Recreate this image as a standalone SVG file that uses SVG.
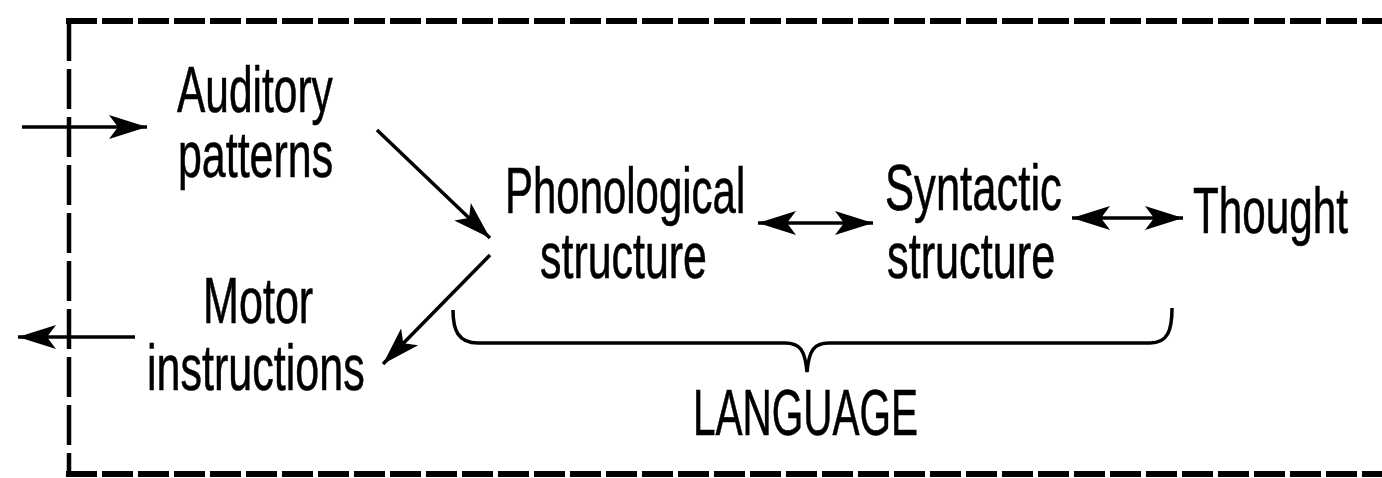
<svg xmlns="http://www.w3.org/2000/svg" width="1382" height="478" viewBox="0 0 1382 478">
  <style>
    .lbl { font-family: "Liberation Sans", Arial, sans-serif; font-size: 64px; fill: #000; stroke: #000; stroke-width: 0.6; }
    .frame { fill: none; stroke: #000; }
    .conn { fill: none; stroke: #000; stroke-width: 3.5; }
  </style>
  <defs>
    <marker id="head" viewBox="-40 -13 42 26" refX="0" refY="0" markerWidth="42" markerHeight="26" markerUnits="userSpaceOnUse" orient="auto-start-reverse">
      <path d="M0,0 L-38,-12 L-29,0 L-38,12 Z" fill="#000"/>
    </marker>
  </defs>

  <rect width="1382" height="478" fill="#fff"/>

  <!-- dashed system boundary (open on the right) -->
  <g id="boundary">
    <line class="frame" x1="66" y1="21" x2="1382" y2="21" stroke-width="6" stroke-dasharray="31 5"/>
    <line class="frame" x1="66" y1="474" x2="1382" y2="474" stroke-width="6" stroke-dasharray="31 5"/>
    <line class="frame" x1="69" y1="21" x2="69" y2="474" stroke-width="4.5" stroke-dasharray="40 8"/>
  </g>

  <!-- labels use a condensed face: glyphs squeezed horizontally -->
  <g id="auditory">
    <text class="lbl" transform="translate(177,112) scale(0.66,1)" textLength="236" lengthAdjust="spacingAndGlyphs">Auditory</text>
    <text class="lbl" transform="translate(178,177) scale(0.66,1)" textLength="235" lengthAdjust="spacingAndGlyphs">patterns</text>
  </g>
  <g id="motor">
    <text class="lbl" transform="translate(203,323) scale(0.66,1)" textLength="167" lengthAdjust="spacingAndGlyphs">Motor</text>
    <text class="lbl" transform="translate(147,390) scale(0.66,1)" textLength="330" lengthAdjust="spacingAndGlyphs">instructions</text>
  </g>
  <g id="phonological">
    <text class="lbl" transform="translate(505,213) scale(0.66,1)" textLength="364" lengthAdjust="spacingAndGlyphs">Phonological</text>
    <text class="lbl" transform="translate(540,278) scale(0.66,1)" textLength="253" lengthAdjust="spacingAndGlyphs">structure</text>
  </g>
  <g id="syntactic">
    <text class="lbl" transform="translate(885,210) scale(0.66,1)" textLength="268" lengthAdjust="spacingAndGlyphs">Syntactic</text>
    <text class="lbl" transform="translate(887,278) scale(0.66,1)" textLength="255" lengthAdjust="spacingAndGlyphs">structure</text>
  </g>
  <g id="thought">
    <text class="lbl" transform="translate(1193,233) scale(0.66,1)" textLength="235" lengthAdjust="spacingAndGlyphs">Thought</text>
  </g>
  <g id="language">
    <path class="conn" stroke-width="4" d="M453,310 C453,330 458,343 478,343 L785,343 C800,343 805,350 807,372 C809,350 814,343 829,343 L1150,343 C1168,343 1172,330 1172,308"/>
    <text class="lbl" transform="translate(693,435) scale(0.66,1)" textLength="341" lengthAdjust="spacingAndGlyphs">LANGUAGE</text>
  </g>

  <g id="connectors">
    <line class="conn" x1="22" y1="127" x2="147" y2="127" stroke-width="4" marker-end="url(#head)"/>
    <line class="conn" x1="135" y1="337" x2="18" y2="337" stroke-width="2.5" marker-end="url(#head)"/>
    <line class="conn" x1="377" y1="130" x2="490" y2="238" marker-end="url(#head)"/>
    <line class="conn" x1="490" y1="255" x2="383" y2="364" marker-end="url(#head)"/>
    <line class="conn" x1="758" y1="223" x2="873" y2="223" stroke-width="3" marker-start="url(#head)" marker-end="url(#head)"/>
    <line class="conn" x1="1072" y1="218" x2="1183" y2="218" stroke-width="3" marker-start="url(#head)" marker-end="url(#head)"/>
  </g>
</svg>
